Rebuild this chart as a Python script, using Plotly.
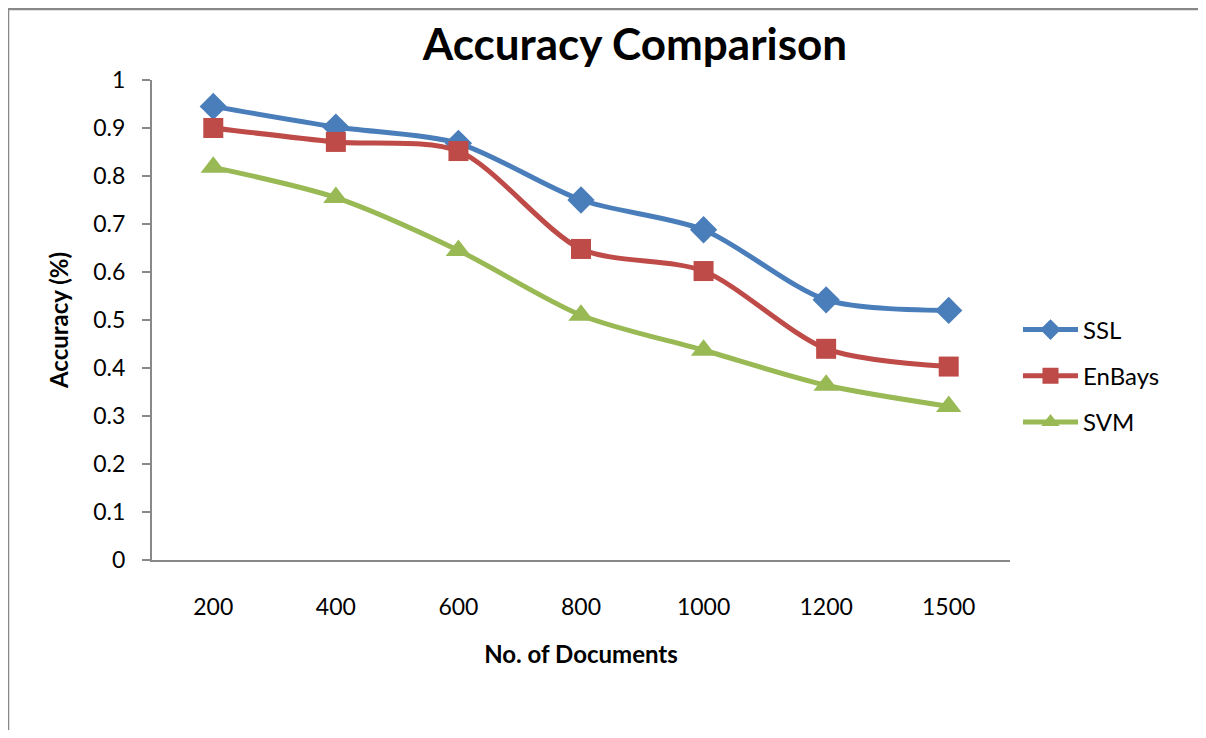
import plotly.graph_objects as go

docs = ["200", "400", "600", "800", "1000", "1200", "1500"]
ssl = [0.945, 0.902, 0.868, 0.75, 0.688, 0.542, 0.52]
enbays = [0.90, 0.871, 0.852, 0.648, 0.602, 0.44, 0.403]
svm = [0.818, 0.755, 0.645, 0.51, 0.437, 0.364, 0.32]

series = [
    ("SSL", ssl, "#4A7EBB", "diamond", 21),
    ("EnBays", enbays, "#BE4B48", "square", 20),
    ("SVM", svm, "#98B954", "triangle-up", 22),
]

FONT = "Lato"
OFF = 8  # page body margin
fig = go.Figure()
for i, (name, vals, col, sym, sz) in enumerate(series):
    fig.add_trace(go.Scatter(
        x=docs, y=vals, name=name, mode="lines+markers",
        line=dict(color=col, width=5, shape="spline", smoothing=0.8),
        marker=dict(symbol=sym, size=sz, color=col),
        legendgroup=name,
    ))

# page coordinates of plot area
L, R, T, B = 152, 1010, 80, 560
W, H = 1206 - 2 * OFF, 738 - 2 * OFF
pw, ph = R - L, B - T
def px(x): return (x - L) / pw
def py(y): return (B - y) / ph

fig.add_shape(type="path", xref="paper", yref="paper",
              path=f"M {px(8)} {py(760)} L {px(8)} {py(9)} L {px(1230)} {py(9)}",
              line=dict(color="#888888", width=2.5))

fig.update_layout(
    width=W, height=H,
    margin=dict(l=L - OFF, r=W - (R - OFF), t=T - OFF, b=H - (B - OFF)),
    paper_bgcolor="white", plot_bgcolor="white",
    font=dict(family=FONT, color="black"),
    title=dict(text="<b>Accuracy Comparison</b>", xref="paper", x=px(635), xanchor="center",
               y=1 - (45 - OFF) / H, yanchor="middle", font=dict(size=44, family=FONT)),
    showlegend=True,
    legend=dict(x=px(1018), y=py(376), xanchor="left", yanchor="middle",
                font=dict(size=24, family=FONT), traceorder="grouped",
                tracegroupgap=12, itemwidth=55, bgcolor="rgba(0,0,0,0)"),
    xaxis=dict(type="category", range=[-0.5, 6.5], showline=True,
               linecolor="#888888", linewidth=2, ticks="", showgrid=False,
               tickfont=dict(size=23, family=FONT), ticklabelstandoff=25,
               title=dict(text="<b>No. of Documents</b>", font=dict(size=24, family=FONT),
                          standoff=28)),
    yaxis=dict(range=[0, 1], dtick=0.1, showline=True, linecolor="#888888",
               linewidth=2, ticks="outside", ticklen=8, tickcolor="#888888",
               tickwidth=2, showgrid=False, zeroline=False,
               tickfont=dict(size=23, family=FONT), ticklabelstandoff=12,
               title=dict(text="<b>Accuracy (%)</b>", font=dict(size=24, family=FONT),
                          standoff=18)),
)

fig.write_html("out.html")
